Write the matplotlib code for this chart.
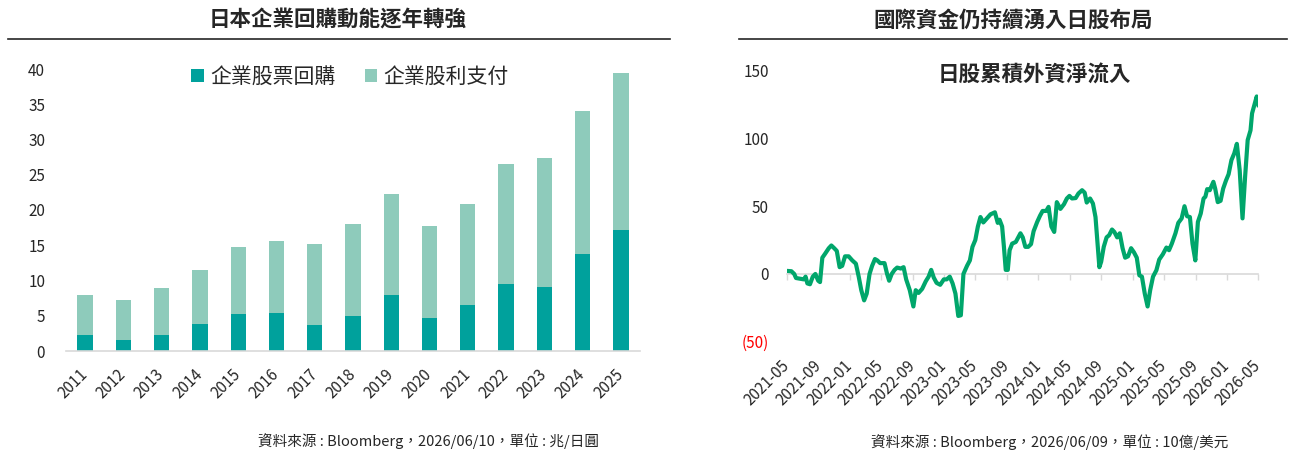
import matplotlib
matplotlib.use("Agg")
import matplotlib.pyplot as plt
import pandas as pd
from matplotlib.patches import Patch
from matplotlib.lines import Line2D

plt.rcParams['font.family'] = ['Noto Sans CJK TC', 'DejaVu Sans']

# ---------------- data ----------------
years = ['2011', '2012', '2013', '2014', '2015', '2016', '2017', '2018',
         '2019', '2020', '2021', '2022', '2023', '2024', '2025']
buyback = [2.3, 1.6, 2.3, 3.8, 5.2, 5.4, 3.7, 5.0, 7.9, 4.7, 6.5, 9.5, 9.1, 13.8, 17.2]
dividends = [5.7, 5.6, 6.6, 7.7, 9.6, 10.2, 11.5, 13.0, 14.4, 13.0, 14.4, 17.0, 18.3, 20.3, 22.2]
bar_series_names = ['企業股票回購', '企業股利支付']
left_yticks = [0, 5, 10, 15, 20, 25, 30, 35, 40]

flow_dates = [
    '2021-05-04', '2021-05-18', '2021-05-29', '2021-06-05', '2021-06-21', '2021-07-05',
    '2021-07-12', '2021-07-19', '2021-07-29', '2021-08-09', '2021-08-19', '2021-08-30',
    '2021-09-06', '2021-09-15', '2021-09-26', '2021-10-10', '2021-10-20', '2021-10-31',
    '2021-11-10', '2021-11-21', '2021-12-01', '2021-12-12', '2021-12-26', '2022-01-09',
    '2022-01-23', '2022-02-03', '2022-02-13', '2022-02-24', '2022-03-06', '2022-03-17',
    '2022-03-27', '2022-04-07', '2022-04-16', '2022-04-27', '2022-05-14', '2022-05-24',
    '2022-06-01', '2022-06-11', '2022-06-22', '2022-07-02', '2022-07-16', '2022-07-27',
    '2022-08-06', '2022-08-20', '2022-09-03', '2022-09-12', '2022-09-23', '2022-10-07',
    '2022-10-21', '2022-11-01', '2022-11-11', '2022-11-21', '2022-12-02', '2022-12-16',
    '2022-12-30', '2023-01-10', '2023-01-22', '2023-02-02', '2023-02-13', '2023-02-24',
    '2023-03-06', '2023-03-16', '2023-03-30', '2023-04-10', '2023-04-20', '2023-05-01',
    '2023-05-11', '2023-05-21', '2023-06-01', '2023-06-15', '2023-06-29', '2023-07-16',
    '2023-07-27', '2023-08-03', '2023-08-13', '2023-08-20', '2023-08-27', '2023-09-04',
    '2023-09-11', '2023-09-21', '2023-10-05', '2023-10-23', '2023-11-01', '2023-11-11',
    '2023-11-22', '2023-12-03', '2023-12-13', '2023-12-27', '2024-01-07', '2024-01-17',
    '2024-01-31', '2024-02-09', '2024-02-20', '2024-03-02', '2024-03-12', '2024-03-26',
    '2024-04-09', '2024-04-20', '2024-04-30', '2024-05-10', '2024-05-24', '2024-06-04',
    '2024-06-18', '2024-06-28', '2024-07-06', '2024-07-19', '2024-07-30', '2024-08-09',
    '2024-08-16', '2024-08-24', '2024-08-31', '2024-09-10', '2024-09-21', '2024-10-01',
    '2024-10-12', '2024-10-21', '2024-11-01', '2024-11-11', '2024-11-22', '2024-12-02',
    '2024-12-13', '2024-12-25', '2025-01-05', '2025-01-16', '2025-01-26', '2025-02-05',
    '2025-02-16', '2025-02-27', '2025-03-09', '2025-03-20', '2025-04-02', '2025-04-13',
    '2025-04-27', '2025-05-11', '2025-05-21', '2025-06-01', '2025-06-15', '2025-06-26',
    '2025-07-09', '2025-07-20', '2025-07-30', '2025-08-10', '2025-08-20', '2025-08-31',
    '2025-09-10', '2025-09-21', '2025-10-02', '2025-10-09', '2025-10-16', '2025-10-26',
    '2025-11-09', '2025-11-16', '2025-11-26', '2025-12-07', '2025-12-17', '2025-12-28',
    '2026-01-07', '2026-01-18', '2026-01-29', '2026-02-08', '2026-02-19', '2026-03-02',
    '2026-03-12', '2026-03-22', '2026-04-02', '2026-04-08', '2026-04-19', '2026-04-26',
    '2026-05-03']
flow_values = [
    2.2, 2.0, 0.0, -3.0, -3.5, -4.0,
    -2.0, -7.0, -7.6, -2.0, 0.0, -5.0,
    -6.0, 12.0, 15.0, 19.0, 21.0, 19.0,
    17.0, 5.0, 6.0, 13.0, 13.0, 10.0,
    7.6, -2.0, -12.0, -19.5, -14.5, 0.0,
    6.0, 11.0, 10.0, 8.0, 8.0, 0.0,
    -5.0, 0.0, 3.0, 4.7, 4.0, 5.0,
    -4.0, -12.0, -24.0, -12.0, -14.0, -11.0,
    -5.4, -2.0, 3.0, -2.7, -6.6, -8.0,
    -4.0, -4.0, -2.0, -7.0, -14.5, -31.0,
    -30.5, 0.0, 6.0, 10.0, 20.0, 25.0,
    35.0, 42.0, 38.0, 41.0, 44.0, 45.5,
    37.7, 40.0, 35.0, 20.0, 3.0, 3.0,
    17.5, 22.4, 23.6, 30.0, 27.0, 20.0,
    20.0, 22.0, 31.5, 38.4, 43.0, 46.5,
    46.5, 49.5, 35.0, 31.0, 53.0, 48.0,
    51.5, 55.7, 57.6, 55.7, 56.0, 59.4,
    61.8, 60.0, 52.7, 55.7, 52.0, 42.0,
    25.0, 5.0, 9.0, 20.0, 27.0, 28.6,
    32.8, 31.0, 27.0, 30.0, 19.0, 12.0,
    13.0, 19.0, 16.0, 12.0, -1.0, -2.0,
    -14.5, -24.0, -12.0, -2.0, 2.7, 10.6,
    14.5, 19.5, 17.5, 22.4, 30.0, 37.7,
    41.0, 50.0, 42.6, 42.0, 22.4, 10.0,
    38.4, 44.6, 55.7, 57.0, 62.6, 61.8,
    68.0, 63.0, 53.0, 54.0, 63.0, 69.0,
    73.6, 84.0, 89.0, 96.0, 76.6, 41.0,
    71.7, 98.8, 106.0, 118.5, 126.0, 131.0,
    124.6]
right_yticks = [-50, 0, 50, 100, 150]
right_ytick_labels = ['(50)', '0', '50', '100', '150']
right_xtick_dates = ['2021-05-01', '2021-09-01', '2022-01-01', '2022-05-01', '2022-09-01',
                     '2023-01-01', '2023-05-01', '2023-09-01', '2024-01-01', '2024-05-01',
                     '2024-09-01', '2025-01-01', '2025-05-01', '2025-09-01', '2026-01-01',
                     '2026-05-01']

left_title = '日本企業回購動能逐年轉強'
right_title = '國際資金仍持續湧入日股布局'
right_subtitle = '日股累積外資淨流入'
left_source = '資料來源 : Bloomberg，2026/06/10，單位 : 兆/日圓'
right_source = '資料來源 : Bloomberg，2026/06/09，單位 : 10億/美元'

# ---------------- styles ----------------
C_BUY = '#00A19C'
C_DIV = '#8ECBBB'
C_LINE = '#00A66B'
C_TEXT = '#262626'
C_AXIS = '#D9D9D9'

W, H = 1294, 454
fig = plt.figure(figsize=(W / 100, H / 100), dpi=100)
fig.patch.set_facecolor('white')

def fx(px):
    return px / W

def fy(py):
    return 1 - py / H

# ---------------- left chart ----------------
axL = fig.add_axes([fx(66), fy(351), fx(640) - fx(66), fy(69) - fy(351)])
x = list(range(len(years)))
axL.bar(x, buyback, width=0.40, color=C_BUY, zorder=2)
axL.bar(x, dividends, width=0.40, bottom=buyback, color=C_DIV, zorder=2)
axL.set_xlim(-0.5, len(years) - 0.5)
axL.set_ylim(0, 40)
for s in ['top', 'right', 'left']:
    axL.spines[s].set_visible(False)
axL.spines['bottom'].set_color(C_AXIS)
axL.spines['bottom'].set_linewidth(1.2)
axL.set_yticks(left_yticks)
axL.set_xticks(x)
axL.set_xticklabels(years, rotation=45, ha='right', va='center', rotation_mode='anchor')
axL.tick_params(axis='x', length=0, pad=15, labelsize=11, labelcolor=C_TEXT)
axL.tick_params(axis='y', length=0, pad=15, labelsize=11, labelcolor=C_TEXT)

handles = [Patch(facecolor=C_BUY, edgecolor='none'), Patch(facecolor=C_DIV, edgecolor='none')]
fig.legend(handles, bar_series_names, loc='center', bbox_to_anchor=(fx(350), fy(77)),
           ncol=2, frameon=False, fontsize=15, handlelength=0.6, handleheight=0.6,
           handletextpad=0.3, columnspacing=1.4, labelcolor=C_TEXT)

fig.text(fx(338), fy(20), left_title, ha='center', va='center', fontsize=15.5,
         fontweight='bold', color=C_TEXT)
fig.add_artist(Line2D([fx(8), fx(670)], [fy(39), fy(39)], color='#262626', lw=1.2))
fig.text(fx(428), fy(441), left_source, ha='center', va='center', fontsize=10.5, color=C_TEXT)

# ---------------- right chart ----------------
axR = fig.add_axes([fx(787), fy(341.7), fx(1258) - fx(787), fy(70.7) - fy(341.7)])
for s in ['top', 'right', 'left']:
    axR.spines[s].set_visible(False)
axR.spines['bottom'].set_position(('data', 0))
axR.spines['bottom'].set_color(C_AXIS)
axR.spines['bottom'].set_linewidth(1.2)

dts = pd.to_datetime(flow_dates)
axR.plot(dts, flow_values, color=C_LINE, lw=3.0, solid_joinstyle='round', zorder=3)
axR.set_xlim(pd.Timestamp('2021-05-01'), pd.Timestamp('2026-05-01'))
axR.set_ylim(-50, 150)
axR.set_yticks(right_yticks)
axR.set_yticklabels(right_ytick_labels)
for lab in axR.get_yticklabels():
    if lab.get_text().startswith('('):
        lab.set_color('#FF0000')
    else:
        lab.set_color(C_TEXT)
xt = pd.to_datetime(right_xtick_dates)
axR.set_xticks(xt)
axR.set_xticklabels([d.strftime('%Y-%m') for d in xt], rotation=45, ha='right',
                    va='center', rotation_mode='anchor')
axR.tick_params(axis='x', direction='out', length=4, width=1, color=C_AXIS, pad=60,
                labelsize=11, labelcolor=C_TEXT)
axR.tick_params(axis='y', length=0, pad=13, labelsize=11)

fig.text(fx(1034), fy(75), right_subtitle, ha='center', va='center', fontsize=15.5,
         fontweight='bold', color=C_TEXT)
fig.text(fx(1013), fy(20), right_title, ha='center', va='center', fontsize=15.5,
         fontweight='bold', color=C_TEXT)
fig.add_artist(Line2D([fx(739), fx(1287)], [fy(39), fy(39)], color='#262626', lw=1.2))
fig.text(fx(1050), fy(442), right_source, ha='center', va='center', fontsize=10.5, color=C_TEXT)

fig.savefig('out.png', dpi=100, facecolor='white')
